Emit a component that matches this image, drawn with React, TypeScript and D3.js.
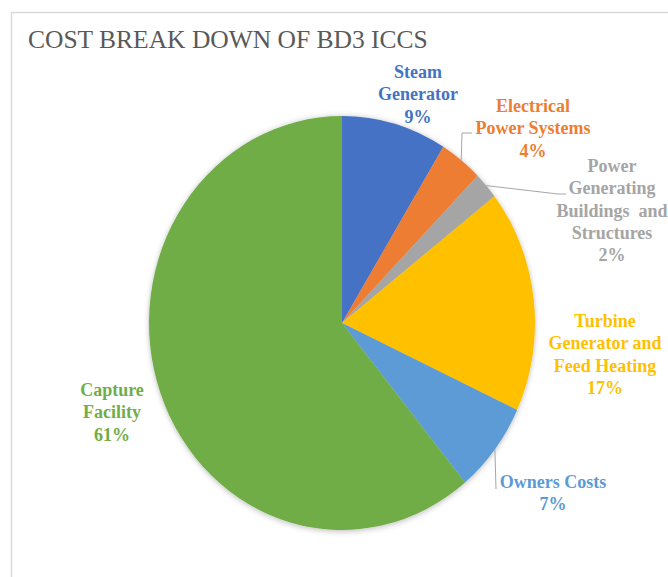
import * as d3 from 'd3'

// data (share of total cost, %)
const categories = [
  'Steam Generator',
  'Electrical Power Systems',
  'Power Generating Buildings and Structures',
  'Turbine Generator and Feed Heating',
  'Owners Costs',
  'Capture Facility',
]
const values = [8.8, 3.6, 2.1, 17.4, 7.1, 61.0]
const colors = ['#4472c4', '#ed7d31', '#a5a5a5', '#ffc000', '#5b9bd5', '#70ad47']

// hand placed data labels (Excel style), same order as categories
const labelLayout = [
  { x: 418, y: 78, lines: ['Steam', 'Generator'], elbow: null },
  { x: 533, y: 112, lines: ['Electrical', 'Power Systems'], elbow: [[462, 133], [472, 133]] },
  { x: 612, y: 172, lines: ['Power', 'Generating', 'Buildings  and', 'Structures'], elbow: [[558, 194], [566, 194]] },
  { x: 605, y: 327, lines: ['Turbine', 'Generator and', 'Feed Heating'], elbow: null },
  { x: 553, y: 488, lines: ['Owners Costs'], elbow: [[496, 489]] },
  { x: 112, y: 396, lines: ['Capture', 'Facility'], elbow: null },
]

const width = 668
const height = 577
const cx = 342
const cy = 323
const rx = 193
const ry = 207
const lineH = 22.3
const serif = 'Liberation Serif, Times New Roman, DejaVu Serif, serif'

export default function App() {
  const rows = categories.map((name, i) => ({ name, value: values[i], color: colors[i] }))
  const total = d3.sum(values)
  const pct = d3.format('.0%')

  const pie = d3.pie<any>().value(d => d.value).sort(null)
  const arcs = pie(rows)
  const arc = d3.arc<any>().innerRadius(0).outerRadius(ry)

  // point on the (stretched) pie edge at a given angle
  const edge = (a: number) => [cx + rx * Math.sin(a), cy - ry * Math.cos(a)]

  return (
    <svg
      width={width}
      height={height}
      style={{ position: 'absolute', left: 0, top: 0, background: '#fff' }}
    >
      <defs>
        <filter id="shadow" x="-10%" y="-10%" width="120%" height="120%">
          <feDropShadow dx="0" dy="1" stdDeviation="3" floodColor="#000" floodOpacity="0.28" />
        </filter>
      </defs>

      {/* chart frame */}
      <path d={`M11.5,${height + 2} V12.5 H${width + 2}`} fill="none" stroke="#d9d9d9" strokeWidth={1.5} />

      <text x={28} y={48} fill="#595959" style={{ fontFamily: serif, fontSize: '25.5px' }}>
        COST BREAK DOWN OF BD3 ICCS
      </text>

      <g transform={`translate(${cx},${cy}) scale(${rx / ry},1)`} filter="url(#shadow)">
        {arcs.map((d, i) => (
          <path key={i} d={arc(d) || ''} fill={d.data.color} />
        ))}
      </g>

      {arcs.map((d, i) => {
        const lay = labelLayout[i]
        if (!lay.elbow) return null
        const mid = (d.startAngle + d.endAngle) / 2
        const pts = [edge(mid), ...lay.elbow]
        return (
          <polyline
            key={'l' + i}
            points={pts.map(p => p.join(',')).join(' ')}
            fill="none"
            stroke="#a6a6a6"
            strokeWidth={1}
          />
        )
      })}

      {rows.map((r, i) => {
        const lay = labelLayout[i]
        const lines = [...lay.lines, pct(r.value / total)]
        return (
          <text
            key={'t' + i}
            x={lay.x}
            y={lay.y}
            textAnchor="middle"
            fill={r.color}
            style={{ fontFamily: serif, fontSize: '18px', fontWeight: 'bold', whiteSpace: 'pre' }}
          >
            {lines.map((t, j) => (
              <tspan key={j} x={lay.x} dy={j === 0 ? 0 : lineH}>
                {t}
              </tspan>
            ))}
          </text>
        )
      })}
    </svg>
  )
}
